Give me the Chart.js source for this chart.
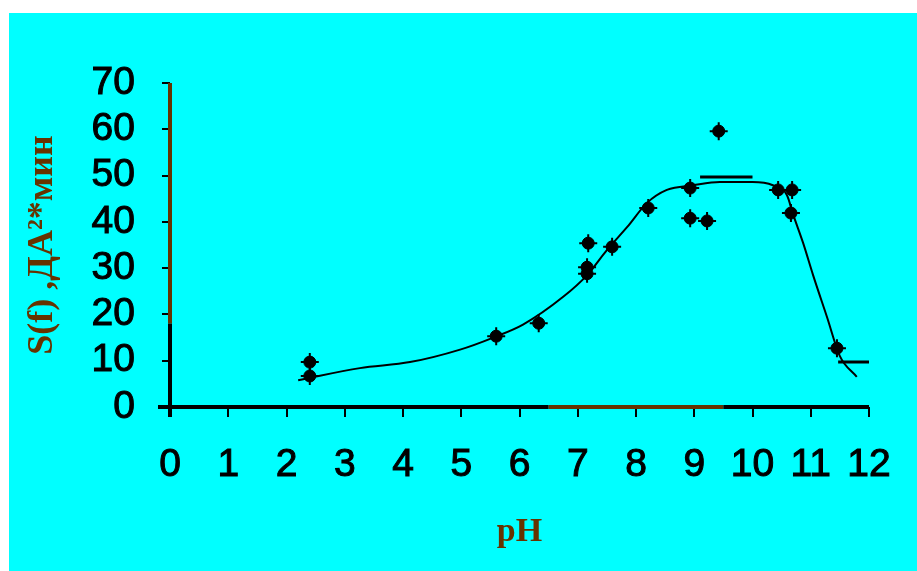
<!DOCTYPE html>
<html>
<head>
<meta charset="utf-8">
<script src="https://cdn.jsdelivr.net/npm/chart.js@4/dist/chart.umd.min.js"></script>
<style>
  html, body { margin: 0; padding: 0; background: #ffffff; }
  #wrap { position: absolute; left: 9px; top: 13px; width: 908px; height: 558px; background: #00ffff; }
</style>
</head>
<body>
<div id="wrap"><canvas id="graphique" width="908" height="558"></canvas></div>
<script>
// measured points
const pointsPH = [2.4, 2.4, 5.6, 6.33, 7.18, 7.16, 7.16, 7.59, 8.21, 8.93, 8.93, 9.22, 9.42, 10.44, 10.68, 10.66, 11.45];
const pointsS = [9.7, 6.7, 15.3, 18.1, 35.4, 30.2, 28.8, 34.6, 43.0, 47.3, 40.8, 40.2, 59.6, 46.9, 46.9, 41.9, 12.7];

// fitted curve
const curvePH = [2.2, 3.26, 4.12, 4.98, 5.55, 6.06, 6.75, 7.16, 7.5, 7.85, 8.19, 8.53, 8.98, 9.44, 10.0, 10.35, 10.59, 10.7, 10.87, 11.04, 11.28, 11.5, 11.79];
const curveS = [5.8, 8.4, 9.7, 12.4, 15.0, 17.8, 23.8, 28.5, 33.9, 38.9, 44.1, 46.9, 47.9, 48.6, 48.6, 47.9, 45.8, 41.5, 35.4, 28.5, 19.4, 11.0, 6.5];

// short horizontal dashes
const topDashPH = [9.1, 10.0];
const topDashS = [49.7, 49.7];
const lowDashPH = [11.47, 12.02];
const lowDashS = [9.7, 9.7];

const xTicks = [0, 1, 2, 3, 4, 5, 6, 7, 8, 9, 10, 11, 12];
const yTicks = [0, 10, 20, 30, 40, 50, 60, 70];

const brown = '#663300';

function toXY(xs, ys) {
    return xs.map((x, i) => ({ x: x, y: ys[i] }));
}

// axis lines, partly brown like the scan
const axesPlugin = {
    id: 'axes',
    afterDatasetsDraw(chart) {
        const ctx = chart.ctx;
        const xs = chart.scales.x;
        const ys = chart.scales.y;
        const x0 = xs.getPixelForValue(0);
        const y0 = ys.getPixelForValue(0);
        ctx.save();
        ctx.lineWidth = 4;
        ctx.lineCap = 'butt';
        const seg = (c, ax, ay, bx, by) => {
            ctx.strokeStyle = c;
            ctx.beginPath();
            ctx.moveTo(ax, ay);
            ctx.lineTo(bx, by);
            ctx.stroke();
        };
        // y axis
        seg(brown, x0, ys.getPixelForValue(70), x0, ys.getPixelForValue(18));
        seg('#000', x0, ys.getPixelForValue(18), x0, y0 + 10);
        // x axis
        seg('#000', x0 - 12, y0, xs.getPixelForValue(6.5), y0);
        seg(brown, xs.getPixelForValue(6.5), y0, xs.getPixelForValue(9.5), y0);
        seg('#000', xs.getPixelForValue(9.5), y0, xs.getPixelForValue(12), y0);
        ctx.restore();
    }
};

const ctx = document.getElementById('graphique').getContext('2d');
new Chart(ctx, {
    type: 'scatter',
    data: {
        datasets: [
            {
                type: 'line',
                data: toXY(curvePH, curveS),
                borderColor: '#000',
                borderWidth: 2,
                pointRadius: 0,
                cubicInterpolationMode: 'monotone',
                fill: false
            },
            {
                type: 'line',
                data: toXY(topDashPH, topDashS),
                borderColor: '#000',
                borderWidth: 3,
                pointRadius: 0
            },
            {
                type: 'line',
                data: toXY(lowDashPH, lowDashS),
                borderColor: '#000',
                borderWidth: 3,
                pointRadius: 0
            },
            {
                data: toXY(pointsPH, pointsS),
                pointStyle: 'circle',
                pointRadius: 6,
                backgroundColor: '#000',
                borderColor: '#000',
                borderWidth: 1
            },
            {
                data: toXY(pointsPH, pointsS),
                pointStyle: 'cross',
                pointRadius: 9,
                borderColor: '#000',
                borderWidth: 2
            }
        ]
    },
    options: {
        responsive: false,
        animation: false,
        layout: { padding: { top: 70, right: 48, left: 0, bottom: 0 } },
        plugins: {
            legend: { display: false },
            tooltip: { enabled: false }
        },
        scales: {
            x: {
                type: 'linear',
                min: 0,
                max: 12,
                afterBuildTicks: (s) => { s.ticks = xTicks.map(v => ({ value: v })); },
                afterFit: (s) => { s.height = 164; },
                border: { display: false },
                grid: { drawOnChartArea: false, drawTicks: true, tickLength: 10, color: '#000', lineWidth: 2 },
                ticks: {
                    autoSkip: false,
                    maxRotation: 0,
                    color: '#000',
                    padding: 25,
                    textStrokeColor: '#000',
                    textStrokeWidth: 1,
                    font: { family: 'Liberation Sans', size: 39 }
                },
                title: {
                    display: true,
                    text: 'pH',
                    color: brown,
                    padding: { top: 0, bottom: 18 },
                    font: { family: 'Liberation Serif', size: 34, weight: 'bold' }
                }
            },
            y: {
                min: 0,
                max: 70,
                afterBuildTicks: (s) => { s.ticks = yTicks.map(v => ({ value: v })); },
                afterFit: (s) => { s.width = 161; },
                border: { display: false },
                grid: { drawOnChartArea: false, drawTicks: true, tickLength: 8, color: '#000', lineWidth: 2 },
                ticks: {
                    autoSkip: false,
                    color: '#000',
                    padding: 27,
                    textStrokeColor: '#000',
                    textStrokeWidth: 1,
                    font: { family: 'Liberation Sans', size: 39 }
                },
                title: {
                    display: true,
                    text: 'S(f) ,ДА²*мин',
                    color: brown,
                    padding: { top: 12, bottom: 0 },
                    font: { family: 'Liberation Serif', size: 36, weight: 'bold' }
                }
            }
        }
    },
    plugins: [axesPlugin]
});
</script>
</body>
</html>
